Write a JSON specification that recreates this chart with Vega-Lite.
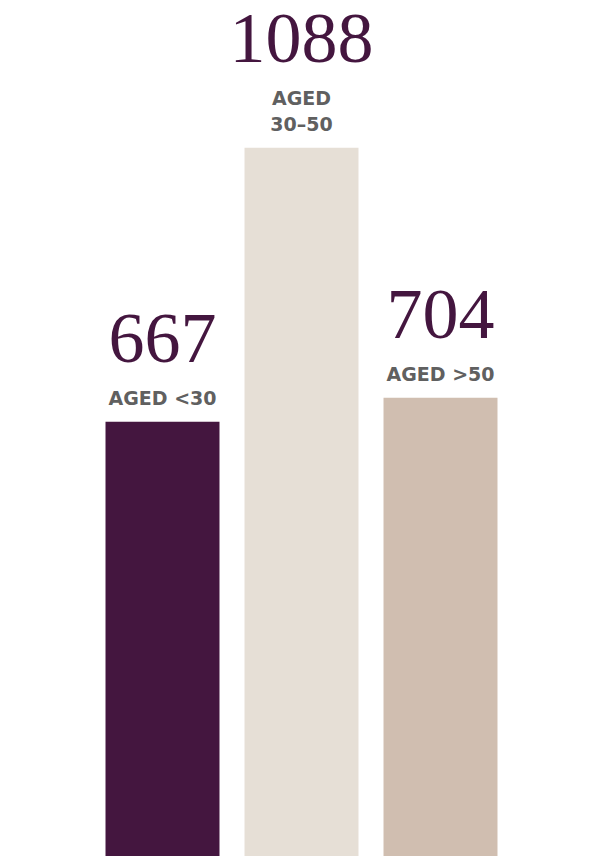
{
  "$schema": "https://vega.github.io/schema/vega-lite/v6.json",
  "width": 417,
  "height": 856,
  "autosize": {"type": "none"},
  "padding": {"left": 93, "right": 80, "top": 0, "bottom": 0},
  "background": "#ffffff",
  "config": {"view": {"stroke": null}},
  "data": {
    "values": [
      {"group": "<30", "label": "AGED <30", "value": 667},
      {"group": "30-50", "label": "AGED\n30–50", "value": 1088},
      {"group": ">50", "label": "AGED >50", "value": 704}
    ]
  },
  "encoding": {
    "x": {"field": "group", "type": "nominal", "sort": null, "axis": null,
          "scale": {"paddingInner": 0.18, "paddingOuter": 0.09}},
    "y": {"field": "value", "type": "quantitative", "axis": null,
          "scale": {"domain": [0, 1315], "nice": false}}
  },
  "layer": [
    {
      "mark": {"type": "bar"},
      "encoding": {
        "color": {"field": "group", "type": "nominal", "legend": null, "sort": null,
                  "scale": {"domain": ["<30", "30-50", ">50"], "range": ["#44163F", "#E6DFD6", "#D0BEB0"]}}
      }
    },
    {
      "transform": [{"filter": "datum.group !== '30-50'"}],
      "mark": {"type": "text", "baseline": "bottom", "dy": -13, "lineBreak": "\n", "lineHeight": 26,
               "font": "DejaVu Sans", "fontWeight": "bold", "fontSize": 19, "color": "#606060"},
      "encoding": {"text": {"field": "label"}}
    },
    {
      "transform": [{"filter": "datum.group === '30-50'"}],
      "mark": {"type": "text", "baseline": "bottom", "dy": -39, "lineBreak": "\n", "lineHeight": 26,
               "font": "DejaVu Sans", "fontWeight": "bold", "fontSize": 19, "color": "#606060"},
      "encoding": {"text": {"field": "label"}}
    },
    {
      "transform": [{"filter": "datum.group !== '30-50'"}],
      "mark": {"type": "text", "baseline": "alphabetic", "dy": -60,
               "font": "Liberation Serif", "fontSize": 72, "color": "#44163F"},
      "encoding": {"text": {"field": "value", "type": "quantitative", "format": "d"}}
    },
    {
      "transform": [{"filter": "datum.group === '30-50'"}],
      "mark": {"type": "text", "baseline": "alphabetic", "dy": -86,
               "font": "Liberation Serif", "fontSize": 72, "color": "#44163F"},
      "encoding": {"text": {"field": "value", "type": "quantitative", "format": "d"}}
    }
  ]
}
